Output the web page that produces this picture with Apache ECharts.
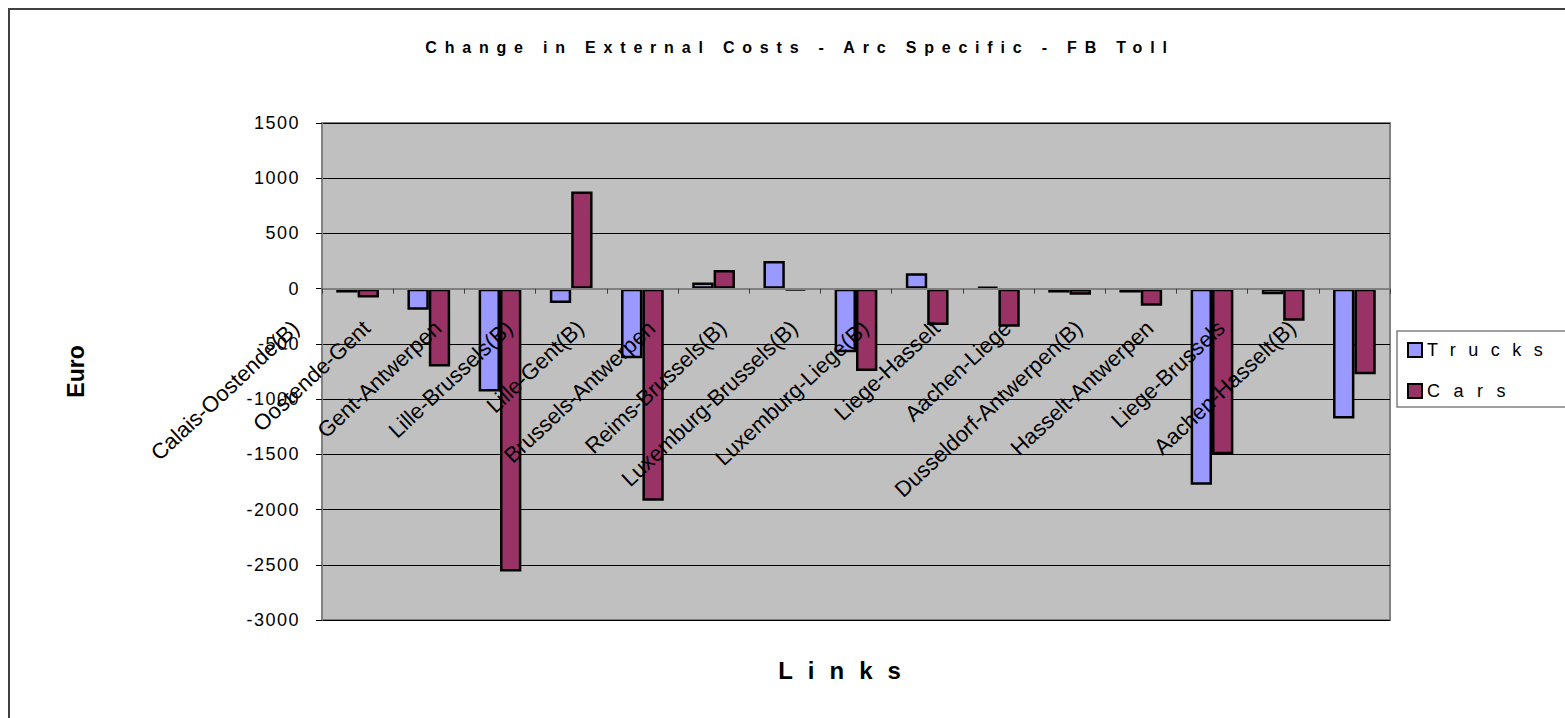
<!DOCTYPE html>
<html>
<head>
<meta charset="utf-8">
<title>Change in External Costs - Arc Specific - FB Toll</title>
<script src="https://cdn.jsdelivr.net/npm/echarts@6/dist/echarts.min.js"></script>
<style>
  html, body { margin: 0; padding: 0; background: #ffffff; }
  #chart { width: 1565px; height: 718px; }
</style>
</head>
<body>
<div id="chart"></div>
<script>
// Network links (arcs) and the change in external costs per vehicle class, in Euro
const links = [
  'Calais-Oostende(B)', 'Oostende-Gent', 'Gent-Antwerpen', 'Lille-Brussels(B)',
  'Lille-Gent(B)', 'Brussels-Antwerpen', 'Reims-Brussels(B)', 'Luxemburg-Brussels(B)',
  'Luxemburg-Liege(B)', 'Liege-Hasselt', 'Aachen-Liege', 'Dusseldorf-Antwerpen(B)',
  'Hasselt-Antwerpen', 'Liege-Brussels', 'Aachen-Hasselt(B)'
];
const trucks = [-35, -190, -930, -130, -630, 55, 250, -575, 140, 15, -35, -35, -1775, -50, -1175];
const cars   = [-80, -705, -2560, 880, -1920, 170, -15, -745, -330, -345, -55, -155, -1500, -290, -775];

const yMin = -3000;
const yMax = 1500;
const yStep = 500;

const FONT = 'Arial, "Liberation Sans", sans-serif';

// Extra letter spacing for the wide-set texts (SVG letter-spacing attribute)
const spacedTexts = {
  'Change in External Costs - Arc Specific - FB Toll': 7.8,
  'Links': 15,
  'Trucks': 12.5,
  'Cars': 13.5
};
const valueLabelSpacing = 1.5;

const chart = echarts.init(document.getElementById('chart'), null, { renderer: 'svg' });

const option = {
  animation: false,
  backgroundColor: '#ffffff',
  title: [
    {
      text: 'Change in External Costs - Arc Specific - FB Toll',
      left: 795, top: 34, textAlign: 'center',
      textStyle: { fontFamily: FONT, fontSize: 16, fontWeight: 'bold', color: '#000' }
    },
    {
      text: 'Links',
      left: 842, top: 653, textAlign: 'center',
      textStyle: { fontFamily: FONT, fontSize: 24, fontWeight: 'bold', color: '#000' }
    }
  ],
  graphic: [
    {
      type: 'rect', z: -10, silent: true,
      shape: { x: 9, y: 9, width: 1600, height: 800 },
      style: { fill: 'none', stroke: '#404040', lineWidth: 2 }
    },
    {
      type: 'rect', z: -1, silent: true,
      shape: { x: 1397, y: 331, width: 170, height: 76 },
      style: { fill: '#ffffff', stroke: '#808080', lineWidth: 1.5 }
    }
  ],
  legend: {
    orient: 'vertical',
    left: 1402, top: 336,
    itemWidth: 14, itemHeight: 14, itemGap: 23,
    icon: 'rect',
    textStyle: { fontFamily: FONT, fontSize: 18, color: '#000' },
    data: ['Trucks', 'Cars']
  },
  grid: {
    left: 322, right: 175, top: 123, bottom: 98,
    containLabel: false,
    outerBoundsMode: 'none',
    show: true,
    backgroundColor: '#C0C0C0',
    borderColor: '#808080',
    borderWidth: 2
  },
  xAxis: {
    type: 'category',
    data: links,
    offset: 0,
    z: 5,
    axisLine: { onZero: false, lineStyle: { color: '#808080', width: 2 } },
    axisTick: { show: true, interval: 0, length: 5, lineStyle: { color: '#404040', width: 1 } },
    axisLabel: {
      interval: 0, rotate: 43, margin: -22,
      align: 'right', verticalAlign: 'middle',
      padding: [0, 85, 0, 0],
      fontFamily: FONT, fontSize: 22, color: '#000'
    },
    splitLine: { show: false }
  },
  yAxis: {
    type: 'value',
    min: yMin, max: yMax, interval: yStep,
    name: 'Euro',
    nameLocation: 'middle',
    nameGap: 235,
    nameTextStyle: { fontFamily: FONT, fontSize: 23, fontWeight: 'bold', color: '#000' },
    axisLine: { show: true, lineStyle: { color: '#808080', width: 2 } },
    axisTick: { show: true, length: 6, lineStyle: { color: '#000', width: 1 } },
    axisLabel: {
      fontFamily: FONT, fontSize: 18, color: '#000', margin: 22,
      formatter: function (v) { return String(v); }
    },
    splitLine: { show: true, lineStyle: { color: '#000', width: 1 } }
  },
  series: [
    {
      name: 'Trucks', type: 'bar', data: trucks,
      barGap: '0%', barCategoryGap: '40%',
      itemStyle: { color: '#9999FF', borderColor: '#000', borderWidth: 2.5 }
    },
    {
      name: 'Cars', type: 'bar', data: cars,
      barGap: '0%', barCategoryGap: '40%',
      itemStyle: { color: '#993366', borderColor: '#000', borderWidth: 2.5 }
    }
  ]
};

chart.setOption(option);

// The category axis runs along the zero line of the value axis
const zeroY = chart.convertToPixel({ yAxisIndex: 0 }, 0);
const bottomY = chart.convertToPixel({ yAxisIndex: 0 }, yMin);
chart.setOption({ xAxis: { offset: -(bottomY - zeroY) } });

// Letter spacing for the wide-set texts and the value axis labels
function spaceTexts() {
  const nodes = document.querySelectorAll('#chart svg text');
  nodes.forEach(function (t) {
    const s = t.textContent;
    if (Object.prototype.hasOwnProperty.call(spacedTexts, s)) {
      t.setAttribute('letter-spacing', spacedTexts[s] + 'px');
    } else if (/^-?\d+$/.test(s)) {
      t.setAttribute('letter-spacing', valueLabelSpacing + 'px');
    }
  });
}
spaceTexts();
chart.on('finished', spaceTexts);
setTimeout(spaceTexts, 0);
</script>
</body>
</html>
